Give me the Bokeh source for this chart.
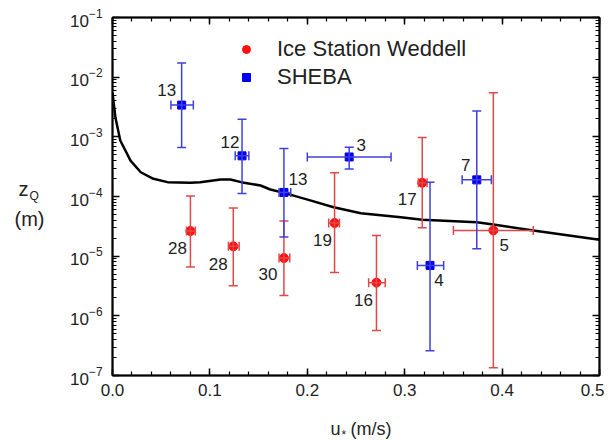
from bokeh.plotting import figure
from bokeh.models import (ColumnDataSource, Whisker, TeeHead, LinearAxis, LogAxis,
                          Legend, LegendItem, Label, SingleIntervalTicker,
                          PrintfTickFormatter, Range1d, LogTicker)
from bokeh.embed import file_html
from bokeh.resources import INLINE
from bokeh.core.properties import value

# ---------------- data ----------------
# SHEBA (blue squares)
sheba_u = [0.071, 0.133, 0.176, 0.243, 0.374, 0.326]
sheba_z = [3.4e-3, 4.8e-4, 1.17e-4, 4.6e-4, 1.9e-4, 7.0e-6]
sheba_z_lo = [6.6e-4, 1.12e-4, 2.1e-5, 2.9e-4, 1.33e-5, 2.6e-7]
sheba_z_hi = [1.72e-2, 1.98e-3, 6.4e-4, 6.7e-4, 2.7e-3, 1.74e-4]
sheba_u_lo = [0.060, 0.126, 0.171, 0.200, 0.359, 0.313]
sheba_u_hi = [0.083, 0.140, 0.183, 0.286, 0.389, 0.340]
sheba_n = ["13", "12", "13", "3", "7", "4"]

# Ice Station Weddell (red circles)
wed_u = [0.080, 0.124, 0.176, 0.228, 0.271, 0.318, 0.391]
wed_z = [2.64e-5, 1.46e-5, 9.3e-6, 3.6e-5, 3.6e-6, 1.70e-4, 2.7e-5]
wed_z_lo = [6.6e-6, 3.2e-6, 2.2e-6, 5.3e-6, 5.7e-7, 3.0e-5, 1.35e-7]
wed_z_hi = [1.02e-4, 6.4e-5, 3.9e-5, 2.5e-4, 2.23e-5, 9.7e-4, 5.5e-3]
wed_u_lo = [0.076, 0.119, 0.171, 0.222, 0.263, 0.314, 0.350]
wed_u_hi = [0.085, 0.130, 0.182, 0.233, 0.280, 0.323, 0.432]
wed_n = ["28", "28", "30", "19", "16", "17", "5"]

# model curve
curve_u = [0.0, 0.003, 0.008, 0.0185, 0.029, 0.042, 0.0565, 0.080, 0.090, 0.111,
           0.121, 0.132, 0.152, 0.162, 0.176, 0.203, 0.227, 0.255, 0.296, 0.318,
           0.374, 0.391, 0.432, 0.5]
curve_z = [5.5e-3, 2.1e-3, 8.7e-4, 4.0e-4, 2.55e-4, 1.98e-4, 1.74e-4, 1.70e-4, 1.74e-4, 1.93e-4,
           1.93e-4, 1.74e-4, 1.53e-4, 1.31e-4, 1.15e-4, 8.6e-5, 6.6e-5, 5.25e-5, 4.5e-5, 4.07e-5,
           3.71e-5, 3.4e-5, 2.69e-5, 1.88e-5]

x_ticks_interval = 0.1

# label offsets (screen px), styling only
sheba_dx = [-15, -12, 14, 12, -11, 9]
sheba_dy = [-15, -14, -13, -12, -15, 15]
wed_dx = [-13, -15, -16, -12, -13, -15, 11]
wed_dy = [17, 18, 16, 17, 17, 16, 15]

FONT = "Liberation Sans"
RED = "#ff1010"
RED_BAR = "#e04848"
BLUE = "#0000ee"
BLUE_BAR = "#4040dd"

p = figure(frame_width=487, frame_height=358,
           x_range=Range1d(0, 0.5), y_range=Range1d(1e-7, 1e-1),
           y_axis_type="log", output_backend="svg", toolbar_location=None,
           min_border_left=112, min_border_top=17, min_border_right=2,
           min_border_bottom=65)
p.background_fill_color = "white"
p.border_fill_color = "white"
p.outline_line_color = "black"
p.outline_line_width = 1.5
p.xgrid.visible = False
p.ygrid.visible = False

# ---- axes styling ----
def style_axis(ax):
    ax.axis_line_width = 2
    ax.axis_line_color = "black"
    ax.major_tick_in = 7
    ax.major_tick_out = 0
    ax.minor_tick_in = 4
    ax.minor_tick_out = 0
    ax.major_tick_line_width = 1.5
    ax.minor_tick_line_width = 1.2
    ax.major_tick_line_color = "black"
    ax.minor_tick_line_color = "black"
    ax.major_label_text_font = FONT
    ax.major_label_text_color = "#222222"
    ax.major_label_text_font_size = "17px"

xa = p.xaxis[0]
xa.ticker = SingleIntervalTicker(interval=x_ticks_interval, num_minor_ticks=5)
xa.formatter = PrintfTickFormatter(format="%.1f")
style_axis(xa)
xa.major_label_standoff = 8

ya = p.yaxis[0]
ya.ticker = LogTicker(num_minor_ticks=10)
style_axis(ya)
ya.major_label_standoff = 10

top = LinearAxis(ticker=SingleIntervalTicker(interval=x_ticks_interval, num_minor_ticks=5))
style_axis(top)
top.major_label_text_font_size = "1px"
top.major_label_text_alpha = 0
top.major_label_standoff = 0
p.add_layout(top, "above")

right = LogAxis(ticker=LogTicker(num_minor_ticks=10))
style_axis(right)
right.major_label_text_font_size = "1px"
right.major_label_text_alpha = 0
right.major_label_standoff = 0
p.add_layout(right, "right")

# ---- curve ----
p.line(curve_u, curve_z, line_color="black", line_width=2.5)

# ---- error bars ----
def add_errors(u, z, zlo, zhi, ulo, uhi, color):
    src = ColumnDataSource(dict(u=u, z=z, zlo=zlo, zhi=zhi, ulo=ulo, uhi=uhi))
    for dim, base, lo, hi in (("height", "u", "zlo", "zhi"), ("width", "z", "ulo", "uhi")):
        w = Whisker(source=src, base=base, lower=lo, upper=hi, dimension=dim,
                    line_color=color, line_width=1.5,
                    upper_head=TeeHead(size=9, line_color=color, line_width=1.5),
                    lower_head=TeeHead(size=9, line_color=color, line_width=1.5))
        w.level = "glyph"
        p.add_layout(w)

add_errors(wed_u, wed_z, wed_z_lo, wed_z_hi, wed_u_lo, wed_u_hi, RED_BAR)
add_errors(sheba_u, sheba_z, sheba_z_lo, sheba_z_hi, sheba_u_lo, sheba_u_hi, BLUE_BAR)

r_wed = p.scatter(wed_u, wed_z, marker="circle", size=9, fill_color=RED, line_color=RED)
r_sheba = p.scatter(sheba_u, sheba_z, marker="square", size=8, fill_color=BLUE, line_color=BLUE)

# ---- number labels ----
for u, z, n, dx, dy in ((wed_u, wed_z, wed_n, wed_dx, wed_dy),
                        (sheba_u, sheba_z, sheba_n, sheba_dx, sheba_dy)):
    src = ColumnDataSource(dict(x=u, y=z, t=n, dx=dx, dy=dy))
    p.text(x="x", y="y", text="t", x_offset="dx", y_offset="dy", source=src,
           text_align="center", text_baseline="middle",
           text_font=value(FONT), text_font_size="17px", text_color="#222222")

# ---- legend ----
legend = Legend(items=[LegendItem(label="Ice Station Weddell", renderers=[r_wed]),
                       LegendItem(label="SHEBA", renderers=[r_sheba])],
                location=(124, 285), padding=0, margin=0, spacing=2,
                glyph_width=20, glyph_height=26, label_height=26, label_standoff=21,
                label_text_font=FONT, label_text_font_size="22px",
                label_text_color="#222222",
                border_line_color=None, background_fill_alpha=0)
p.add_layout(legend)

# ---- axis titles: Labels in side panels (not clipped), canvas coordinates ----
def lab(side, x, y, text, size, align="left"):
    p.add_layout(Label(x=x, y=y, x_units="canvas", y_units="canvas", text=text,
                       text_font=FONT, text_font_size=size, text_color="#222222",
                       text_align=align, text_baseline="alphabetic"), side)

lab("left", 18, 188, "z", "20px")
lab("left", 29, 195, "Q", "12px")
lab("left", 29, 218, "(m)", "20px", align="center")
lab("left", 330, 428, "u", "18px")
lab("right", 341, 434, "*", "12px")
lab("below", 350, 428, "(m/s)", "18px")

open("out.html", "w").write(file_html(p, INLINE))
